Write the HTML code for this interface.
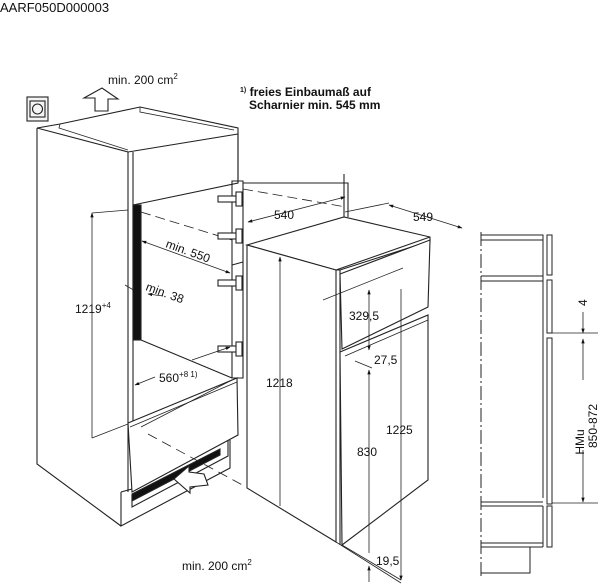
<!DOCTYPE html>
<html><head><meta charset="utf-8"><style>
html,body{margin:0;padding:0;background:#fff}
svg{display:block;font-family:"Liberation Sans",sans-serif}
text{fill:#111}
</style></head><body>
<svg width="600" height="588" viewBox="0 0 600 588" xmlns="http://www.w3.org/2000/svg">
<defs>
<marker id="a" viewBox="0 0 10 10" refX="9" refY="5" markerWidth="6" markerHeight="6" orient="auto-start-reverse"><path d="M0,1.5L10,5L0,8.5z" fill="#111"/></marker>
</defs>
<text x="0" y="12" font-size="13">AARF050D000003</text>

<g fill="none" stroke="#222" stroke-width="1.1">
<rect x="27" y="97" width="21" height="24" fill="#f4f4f4"/>
<rect x="30" y="101" width="15" height="16"/>
<circle cx="37.5" cy="109" r="5"/>
<path d="M95,111 L95,98 L84,98 L102,88 L118,99 L108,99 L108,111 Z" fill="#fff"/>

<path d="M37,128 L37,464 L121,526"/>
<path d="M37,128 L60,124 L140,107 L238,128 L238,182"/>
<path d="M37,128 L128,152 L128,492"/>
<path d="M128,152 L238,134 L238,183 L133,205 L133,152"/>
<path d="M60,124 L59,128 L128,150" stroke-width="0.8"/>
<path d="M140,107 L140,112 L234,130" stroke-width="0.8"/>
<line x1="133" y1="205" x2="133" y2="423"/>
<rect x="133" y="205" width="8" height="135" fill="#111"/>
<path d="M141,340 L232,378"/>
<path d="M141,212 L232,240" stroke-dasharray="10,5" stroke-width="0.8"/>
<path d="M232,181 L232,378 L243,378 L243,181 Z"/>
<path d="M243,183 L348,183 L348,217"/>
<path d="M243,189 L346,207" stroke-dasharray="10,5" stroke-width="0.8"/>
<line x1="232" y1="265" x2="243" y2="262"/>
<g fill="#fff">
<rect x="218" y="196" width="20" height="6"/><rect x="236" y="192" width="6" height="14"/>
<rect x="218" y="233" width="20" height="6"/><rect x="236" y="229" width="6" height="14"/>
<rect x="218" y="280" width="20" height="6"/><rect x="236" y="276" width="6" height="14"/>
<rect x="218" y="346" width="20" height="6"/><rect x="236" y="342" width="6" height="14"/>
</g>
<!-- lower front panel -->
<path d="M128,423 L237,378 L238,435 L132,492 Z" fill="#fff"/>
<path d="M130,427 L237,382" stroke-width="0.8"/>
<path d="M141,427 L232,380" stroke-width="0.8"/>
<path d="M121,492 L132,489"/>
<path d="M121,492 L121,526 L230,468 L230,440"/>
<path d="M132,495 L132,507 L228,456 L228,440"/>
<polygon points="132,494 220,449 220,455 132,501" fill="#111"/>
<path d="M148,434 L248,488" stroke-dasharray="10,6" stroke-width="0.8"/>
<path d="M174,479 L189,466 L189,472 L204,474 L208,485 L190,487 L190,493 Z" fill="#fff"/>

<!-- appliance -->
<path d="M247,245 L344,217 L430,237 L430,241 L340,270 L336,270 Z" fill="#fff"/>
<path d="M247,245 L336,270 L336,542 L247,488 Z" fill="#fff"/>
<path d="M340,270 L340,545"/>
<path d="M344,217 L344,174"/>
<path d="M336,270 L430,237"/>
<path d="M340,274 L430,240 L428,307 L342,349 Z" fill="#fff"/>
<path d="M340,352 L428,315 L428,480 L342,545 Z" fill="#fff"/>
<path d="M345,356 L428,320" stroke-width="0.8"/>
<path d="M336,542 L401,583" stroke-width="0.8"/>
<path d="M342,545 L401,580" stroke-width="0.8"/>
<path d="M323,300 L403,268" stroke-width="0.7"/>
</g>

<g stroke="#222" stroke-width="0.8" fill="none">
<line x1="92" y1="438" x2="92" y2="213" marker-end="url(#a)"/>
<line x1="92" y1="213" x2="128" y2="210"/>
<line x1="92" y1="438" x2="128" y2="424"/>
<line x1="280" y1="506" x2="280" y2="257" marker-end="url(#a)"/>
<line x1="401" y1="580" x2="401" y2="289" marker-start="url(#a)"/>
<line x1="369" y1="290" x2="369" y2="350" marker-start="url(#a)" marker-end="url(#a)"/>
<line x1="369" y1="370" x2="369" y2="553" marker-start="url(#a)"/>
<line x1="369" y1="566" x2="369" y2="582" marker-start="url(#a)"/>
<line x1="355" y1="361" x2="372" y2="368"/>
<line x1="248" y1="222" x2="345" y2="197" marker-start="url(#a)" marker-end="url(#a)"/>
<line x1="389" y1="205" x2="462" y2="228" marker-start="url(#a)" marker-end="url(#a)"/>
<line x1="345" y1="212" x2="389" y2="203"/>
<line x1="142" y1="241" x2="230" y2="273" marker-start="url(#a)" marker-end="url(#a)"/>
<line x1="125" y1="285" x2="137" y2="292" marker-end="url(#a)"/>
<line x1="163" y1="296" x2="148" y2="294" marker-end="url(#a)"/>
<line x1="192" y1="360" x2="230" y2="347" marker-end="url(#a)"/>
<line x1="155" y1="377" x2="135" y2="385" marker-end="url(#a)"/>
</g>

<g font-size="12">
<text x="108" y="84">min. 200 cm<tspan font-size="8" dy="-5">2</tspan></text>
<text x="240" y="96" font-weight="bold"><tspan font-size="7" dy="-4">1)</tspan><tspan dy="4"> freies Einbaumaß auf</tspan></text>
<text x="249" y="109" font-weight="bold">Scharnier min. 545 mm</text>
<text x="274" y="219">540</text>
<text x="413" y="221">549</text>
<text x="165" y="247" transform="rotate(20 165 247)">min. 550</text>
<text x="145" y="290" transform="rotate(20 145 290)">min. 38</text>
<text x="75" y="313">1219<tspan font-size="8" dy="-5">+4</tspan></text>
<text x="159" y="382">560<tspan font-size="8" dy="-5">+8 1)</tspan></text>
<text x="266" y="387">1218</text>
<text x="349" y="320">329,5</text>
<text x="374" y="364">27,5</text>
<text x="386" y="434">1225</text>
<text x="357" y="456">830</text>
<text x="376" y="565">19,5</text>
<text x="182" y="570">min. 200 cm<tspan font-size="8" dy="-5">2</tspan></text>
</g>

<g stroke="#222" stroke-width="1" fill="none">
<line x1="481" y1="232" x2="481" y2="577" stroke-dasharray="14,3,2,3"/>
<path d="M481,235 L543,235 L543,498"/><line x1="481" y1="240" x2="543" y2="240"/>
<line x1="481" y1="276" x2="543" y2="276"/><line x1="481" y1="281" x2="543" y2="281"/>
<line x1="481" y1="502" x2="543" y2="502"/><line x1="481" y1="506" x2="543" y2="506"/>
<path d="M543,506 L543,547"/>
<line x1="481" y1="543" x2="543" y2="543"/><line x1="481" y1="547" x2="543" y2="547"/>
<path d="M481,547 L530,547 L530,573 L481,573"/>
<rect x="547" y="235" width="5" height="40"/>
<rect x="547" y="280" width="5" height="53"/>
<rect x="547" y="338" width="5" height="166"/>
<rect x="547" y="506" width="5" height="41"/>
<line x1="552" y1="333" x2="598" y2="333" stroke-width="0.7"/>
<line x1="552" y1="503" x2="598" y2="503" stroke-width="0.7"/>
<line x1="583" y1="312" x2="583" y2="333" marker-end="url(#a)" stroke-width="0.8"/>
<line x1="583" y1="380" x2="583" y2="339" marker-end="url(#a)" stroke-width="0.8"/>
<line x1="583" y1="450" x2="583" y2="502" marker-end="url(#a)" stroke-width="0.8"/>
</g>
<text x="0" y="0" font-size="12" transform="translate(587,306) rotate(-90)">4</text>
<text x="0" y="0" font-size="12" transform="translate(584,442) rotate(-90)" text-anchor="middle">HMu</text>
<text x="0" y="0" font-size="12" transform="translate(597,426) rotate(-90)" text-anchor="middle">850-872</text>
</svg>
</body></html>
